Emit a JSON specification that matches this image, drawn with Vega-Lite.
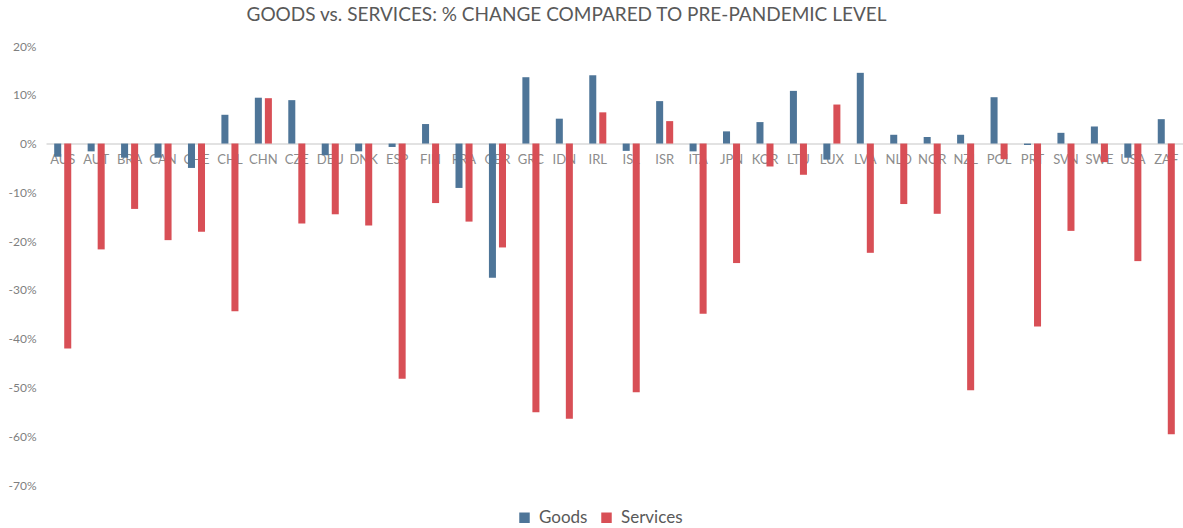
{
  "$schema": "https://vega.github.io/schema/vega-lite/v6.json",
  "width": 1137,
  "height": 439,
  "autosize": {"type": "none"},
  "padding": {"left": 46, "top": 46, "right": 0, "bottom": 43},
  "background": "white",
  "title": {
    "text": "GOODS vs. SERVICES: % CHANGE COMPARED TO PRE-PANDEMIC LEVEL",
    "font": "Lato",
    "fontSize": 19,
    "fontWeight": "normal",
    "color": "#595959",
    "anchor": "middle",
    "dx": -48,
    "offset": 15
  },
  "data": {
    "values": [
      {"country": "AUS", "Goods": -0.027, "Services": -0.420},
      {"country": "AUT", "Goods": -0.016, "Services": -0.217},
      {"country": "BRA", "Goods": -0.029, "Services": -0.134},
      {"country": "CAN", "Goods": -0.029, "Services": -0.198},
      {"country": "CHE", "Goods": -0.050, "Services": -0.181},
      {"country": "CHL", "Goods": 0.059, "Services": -0.344},
      {"country": "CHN", "Goods": 0.094, "Services": 0.093},
      {"country": "CZE", "Goods": 0.089, "Services": -0.164},
      {"country": "DEU", "Goods": -0.024, "Services": -0.145},
      {"country": "DNK", "Goods": -0.016, "Services": -0.168},
      {"country": "ESP", "Goods": -0.007, "Services": -0.482},
      {"country": "FIN", "Goods": 0.040, "Services": -0.122},
      {"country": "FRA", "Goods": -0.091, "Services": -0.160},
      {"country": "GBR", "Goods": -0.275, "Services": -0.213},
      {"country": "GRC", "Goods": 0.136, "Services": -0.551},
      {"country": "IDN", "Goods": 0.051, "Services": -0.564},
      {"country": "IRL", "Goods": 0.140, "Services": 0.064},
      {"country": "ISL", "Goods": -0.015, "Services": -0.510},
      {"country": "ISR", "Goods": 0.087, "Services": 0.046},
      {"country": "ITA", "Goods": -0.016, "Services": -0.349},
      {"country": "JPN", "Goods": 0.025, "Services": -0.245},
      {"country": "KOR", "Goods": 0.044, "Services": -0.047},
      {"country": "LTU", "Goods": 0.108, "Services": -0.064},
      {"country": "LUX", "Goods": -0.033, "Services": 0.080},
      {"country": "LVA", "Goods": 0.145, "Services": -0.224},
      {"country": "NLD", "Goods": 0.018, "Services": -0.124},
      {"country": "NOR", "Goods": 0.0135, "Services": -0.144},
      {"country": "NZL", "Goods": 0.018, "Services": -0.506},
      {"country": "POL", "Goods": 0.095, "Services": -0.032},
      {"country": "PRT", "Goods": -0.003, "Services": -0.375},
      {"country": "SVN", "Goods": 0.022, "Services": -0.179},
      {"country": "SWE", "Goods": 0.035, "Services": -0.038},
      {"country": "USA", "Goods": -0.029, "Services": -0.241},
      {"country": "ZAF", "Goods": 0.050, "Services": -0.596}
    ]
  },
  "transform": [
    {"fold": ["Goods", "Services"], "as": ["series", "change"]}
  ],
  "mark": {"type": "bar"},
  "encoding": {
    "x": {
      "field": "country",
      "type": "nominal",
      "sort": null,
      "scale": {"paddingInner": 0.49, "paddingOuter": 0.245},
      "axis": {
        "title": null,
        "orient": "bottom",
        "offset": -341.4,
        "labelAngle": 0,
        "ticks": false,
        "domainColor": "#D9D9D9",
        "domainWidth": 1.5,
        "labelColor": "#8C8C8C",
        "labelFont": "Lato",
        "labelFontSize": 13,
        "labelPadding": 10
      }
    },
    "xOffset": {
      "field": "series",
      "sort": ["Goods", "Services"],
      "scale": {"paddingInner": 0.3}
    },
    "y": {
      "field": "change",
      "type": "quantitative",
      "scale": {"domain": [-0.7, 0.2], "nice": false, "zero": true},
      "axis": {
        "title": null,
        "format": ".0%",
        "labelExpr": "replace(datum.label, '\u2212', '-')",
        "values": [-0.7, -0.6, -0.5, -0.4, -0.3, -0.2, -0.1, 0, 0.1, 0.2],
        "grid": false,
        "domain": false,
        "ticks": false,
        "labelColor": "#7F7F7F",
        "labelFont": "Lato",
        "labelFontSize": 12,
        "labelPadding": 10
      }
    },
    "color": {
      "field": "series",
      "type": "nominal",
      "scale": {"domain": ["Goods", "Services"], "range": ["#4E7598", "#D84F56"]},
      "legend": {
        "title": null,
        "orient": "none",
        "direction": "horizontal",
        "legendX": 470,
        "legendY": 463,
        "symbolType": "square",
        "symbolSize": 110,
        "symbolStrokeWidth": 0,
        "labelFont": "Lato",
        "labelFontSize": 17,
        "labelColor": "#595959",
        "labelOffset": 6,
        "columnPadding": 10
      }
    }
  },
  "config": {"view": {"stroke": null}}
}
